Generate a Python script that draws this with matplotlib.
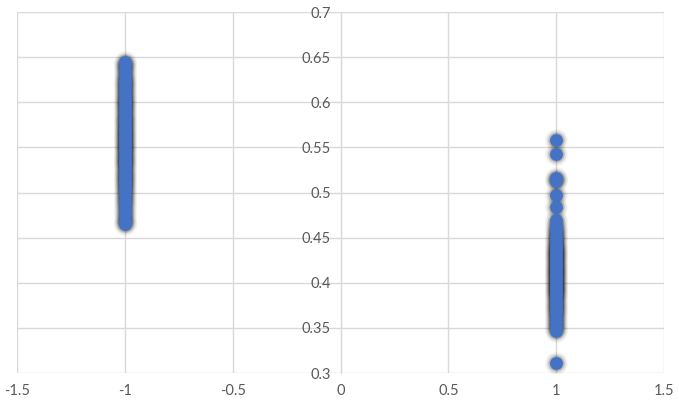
import numpy as np
import matplotlib
matplotlib.use('Agg')
import matplotlib.pyplot as plt

plt.rcParams['font.family'] = ['Lato', 'DejaVu Sans']

# cluster at x = -1
left_x = -1
left_y = [0.645, 0.641, 0.636, 0.630, 0.625, 0.621, 0.617, 0.612, 0.608, 0.604,
          0.600, 0.596, 0.592, 0.588, 0.584, 0.580, 0.577, 0.573, 0.569, 0.566,
          0.562, 0.559, 0.555, 0.552, 0.548, 0.545, 0.541, 0.537, 0.534, 0.530,
          0.526, 0.522, 0.518, 0.514, 0.510, 0.506, 0.502, 0.497, 0.492, 0.487,
          0.481, 0.475, 0.468, 0.465]

# cluster at x = 1
right_x = 1
right_y = [0.558, 0.543, 0.516, 0.513, 0.497, 0.484, 0.469, 0.462, 0.457, 0.452,
           0.448, 0.444, 0.440, 0.437, 0.434, 0.431, 0.428, 0.425, 0.422, 0.419,
           0.416, 0.413, 0.410, 0.407, 0.404, 0.401, 0.398, 0.395, 0.392, 0.389,
           0.386, 0.382, 0.378, 0.374, 0.370, 0.366, 0.361, 0.356, 0.351, 0.346,
           0.311]

x_ticks = [-1.5, -1, -0.5, 0, 0.5, 1, 1.5]
x_labels = ['-1.5', '-1', '-0.5', '0', '0.5', '1', '1.5']
y_ticks = [0.3, 0.35, 0.4, 0.45, 0.5, 0.55, 0.6, 0.65, 0.7]
y_labels = ['0.3', '0.35', '0.4', '0.45', '0.5', '0.55', '0.6', '0.65', '0.7']

xs = [left_x] * len(left_y) + [right_x] * len(right_y)
ys = left_y + right_y

fig = plt.figure(figsize=(6.79, 4.07), dpi=100)
ax = fig.add_axes([0.025, 0.0835, 0.953, 0.887])

# soft dark shadow, builds up where points pile on each other
for s, a in [(280, 0.035), (210, 0.07), (150, 0.12), (110, 0.15)]:
    ax.scatter(xs, ys, s=s, color='black', alpha=a, linewidths=0, zorder=2)

ax.scatter(xs, ys, s=85, color='#4472c4', linewidths=0, zorder=3)

ax.set_xlim(-1.5, 1.5)
ax.set_ylim(0.3, 0.7)
ax.set_xticks(x_ticks)
ax.set_xticklabels(x_labels)
ax.set_yticks(y_ticks)
ax.set_yticklabels(y_labels)
ax.grid(True, color='#d9d9d9', linewidth=1)
ax.set_axisbelow(True)

for sp in ['top', 'right', 'bottom']:
    ax.spines[sp].set_visible(False)
ax.spines['left'].set_position(('data', 0))
ax.spines['left'].set_color('#d9d9d9')

ax.tick_params(axis='both', length=0, labelsize=10.5, labelcolor='#595959')
ax.tick_params(axis='y', pad=7)
ax.tick_params(axis='x', pad=8)

fig.savefig('out.png', dpi=100)
